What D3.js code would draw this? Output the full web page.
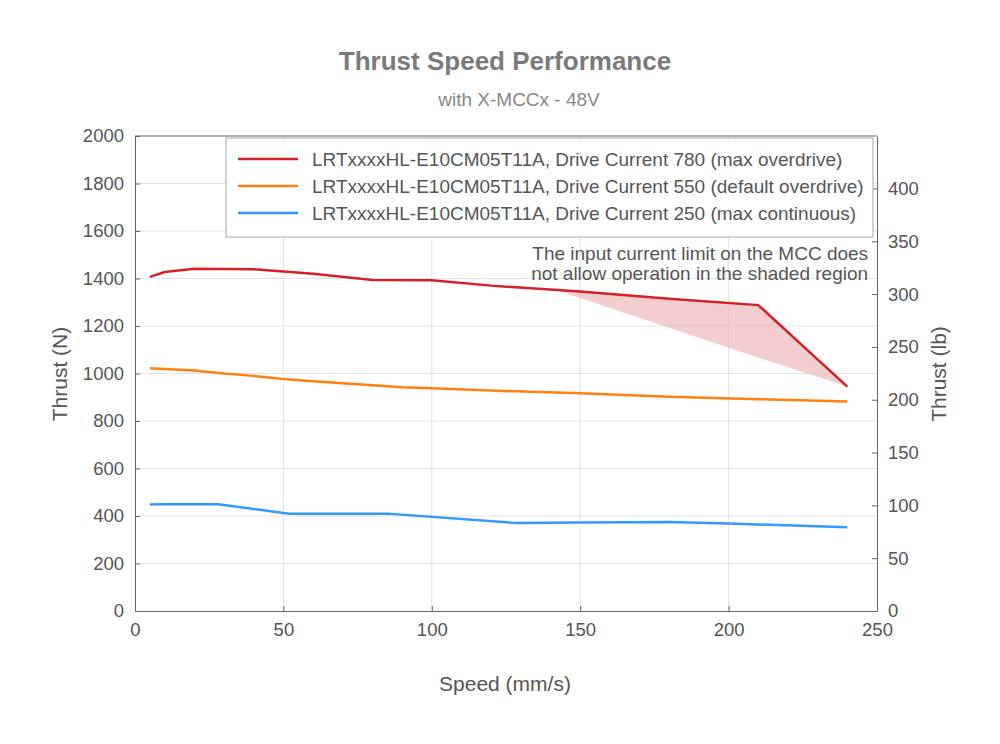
<!DOCTYPE html>
<html>
<head>
<meta charset="utf-8">
<script src="https://cdn.jsdelivr.net/npm/d3@7"></script>
<style>
  body { margin: 0; background: #fff; }
  svg { font-family: "Liberation Sans", Arial, sans-serif; }
  .axis path, .axis line { stroke: #666; }
  .axis text { fill: #555; font-size: 18.5px; font-family: "Liberation Sans", Arial, sans-serif; }
  .grid line { stroke: #e3e3e3; }
</style>
</head>
<body>
<script>
// data
var speed780 = [5, 10, 20, 40, 60, 80, 100, 120, 150, 180, 210, 240];
var thrust780 = [1407, 1427, 1441, 1439, 1420, 1394, 1393, 1370, 1345, 1315, 1288, 945];

var speed550 = [5, 20, 30, 40, 50, 60, 80, 90, 100, 120, 150, 180, 210, 240];
var thrust550 = [1022, 1013, 1000, 990, 977, 967, 951, 942, 938, 928, 917, 902, 892, 882];

var speed250 = [5, 10, 20, 28, 52, 85, 128, 150, 180, 200, 240];
var thrust250 = [448, 450, 450, 449, 410, 410, 371, 373, 375, 368, 353];

// lower edge of the shaded (current limited) region
var limitSpeed = [142, 200, 240];
var limitThrust = [1352, 1108, 945];

var seriesNames = [
  'LRTxxxxHL-E10CM05T11A, Drive Current 780 (max overdrive)',
  'LRTxxxxHL-E10CM05T11A, Drive Current 550 (default overdrive)',
  'LRTxxxxHL-E10CM05T11A, Drive Current 250 (max continuous)'
];
var colors = ['#d62028', '#ff800e', '#3399ff'];

var xTicks = [0, 50, 100, 150, 200, 250];
var yTicks = [0, 200, 400, 600, 800, 1000, 1200, 1400, 1600, 1800, 2000];
var lbTicks = [0, 50, 100, 150, 200, 250, 300, 350, 400];
var N_PER_LB = 4.448;

function zip(xs, ys) { return xs.map(function (x, i) { return { x: x, y: ys[i] }; }); }
var series = [zip(speed780, thrust780), zip(speed550, thrust550), zip(speed250, thrust250)];

const margin = { top: 136, right: 123, bottom: 133, left: 135 };
const W = 1000, H = 744;
const width = W - margin.left - margin.right;
const height = H - margin.top - margin.bottom;

const xScale = d3.scaleLinear().domain([0, 250]).range([0, width]);
const yScale = d3.scaleLinear().domain([0, 2000]).range([height, 0]);
const yLb = d3.scaleLinear().domain([0, 2000 / N_PER_LB]).range([height, 0]);

const svg = d3.select("body").append("svg")
  .attr("width", W)
  .attr("height", H);

svg.append("text")
  .attr("x", 505).attr("y", 70)
  .attr("text-anchor", "middle")
  .attr("font-size", 26).attr("font-weight", "bold")
  .attr("fill", "#7a7a7a")
  .text("Thrust Speed Performance");

svg.append("text")
  .attr("x", 519).attr("y", 106)
  .attr("text-anchor", "middle")
  .attr("font-size", 19)
  .attr("fill", "#888")
  .text("with X-MCCx - 48V");

const g = svg.append("g")
  .attr("transform", "translate(" + margin.left + "," + margin.top + ")");

// grid
g.append("g").attr("class", "grid")
  .selectAll("line").data(xTicks.slice(1, -1)).enter().append("line")
  .attr("x1", d => xScale(d)).attr("x2", d => xScale(d))
  .attr("y1", 0).attr("y2", height);
g.append("g").attr("class", "grid")
  .selectAll("line").data(yTicks.slice(1, -1)).enter().append("line")
  .attr("x1", 0).attr("x2", width)
  .attr("y1", d => yScale(d)).attr("y2", d => yScale(d));

// shaded region between red curve and the limit line
var redPart = series[0].filter(d => d.x > limitSpeed[0]);
var shade = [{ x: limitSpeed[0], y: limitThrust[0] }].concat(redPart)
  .concat(zip(limitSpeed, limitThrust).reverse());
g.append("path")
  .attr("d", d3.line().x(d => xScale(d.x)).y(d => yScale(d.y))(shade) + "Z")
  .attr("fill", "#f2b8bb").attr("fill-opacity", 0.7).attr("stroke", "none");

// lines
const line = d3.line()
  .x(function (d) { return xScale(d.x); })
  .y(function (d) { return yScale(d.y); });

g.selectAll('.line')
  .data(series)
  .enter()
  .append("path")
  .attr("class", "line")
  .attr("fill", "none")
  .attr("stroke-width", 2.5)
  .attr("stroke", (d, i) => colors[i])
  .attr("d", line);

// axes (ticks pointing inward)
const fmt = d3.format("d");
g.append("g").attr("class", "axis")
  .attr("transform", "translate(0," + height + ")")
  .call(d3.axisBottom(xScale).tickValues(xTicks).tickFormat(fmt).tickSizeInner(-5).tickSizeOuter(0).tickPadding(12));
g.append("g").attr("class", "axis")
  .call(d3.axisLeft(yScale).tickValues(yTicks).tickFormat(fmt).tickSizeInner(-5).tickSizeOuter(0).tickPadding(11));
g.append("g").attr("class", "axis")
  .attr("transform", "translate(" + width + ",0)")
  .call(d3.axisRight(yLb).tickValues(lbTicks).tickFormat(fmt).tickSizeInner(-5).tickSizeOuter(0).tickPadding(11));
g.append("line")
  .attr("x1", 0).attr("x2", width).attr("y1", 0).attr("y2", 0)
  .attr("stroke", "#666");

// axis titles
svg.append("text")
  .attr("x", 505).attr("y", 691)
  .attr("text-anchor", "middle").attr("font-size", 21).attr("fill", "#555")
  .text("Speed (mm/s)");
svg.append("text")
  .attr("transform", "translate(67,374) rotate(-90)")
  .attr("text-anchor", "middle").attr("font-size", 21).attr("fill", "#555")
  .text("Thrust (N)");
svg.append("text")
  .attr("transform", "translate(946,374) rotate(-90)")
  .attr("text-anchor", "middle").attr("font-size", 21).attr("fill", "#555")
  .text("Thrust (lb)");

// annotation
var note = g.append("text")
  .attr("text-anchor", "end").attr("font-size", 19).attr("fill", "#555");
note.append("tspan").attr("x", xScale(247)).attr("y", 124).text("The input current limit on the MCC does");
note.append("tspan").attr("x", xScale(247)).attr("y", 144).text("not allow operation in the shaded region");

// legend
const legend = svg.append("g").attr("transform", "translate(226,138)");
legend.append("rect")
  .attr("width", 647).attr("height", 99)
  .attr("fill", "#fff").attr("stroke", "#a8a8a8");
const items = legend.selectAll(".item").data(seriesNames).enter().append("g")
  .attr("transform", (d, i) => "translate(0," + (21 + i * 27) + ")");
items.append("line")
  .attr("x1", 12).attr("x2", 72).attr("y1", 0).attr("y2", 0)
  .attr("stroke-width", 2.5)
  .attr("stroke", (d, i) => colors[i]);
items.append("text")
  .attr("x", 86).attr("y", 7)
  .attr("font-size", 19).attr("fill", "#555")
  .text(d => d);
</script>
</body>
</html>
